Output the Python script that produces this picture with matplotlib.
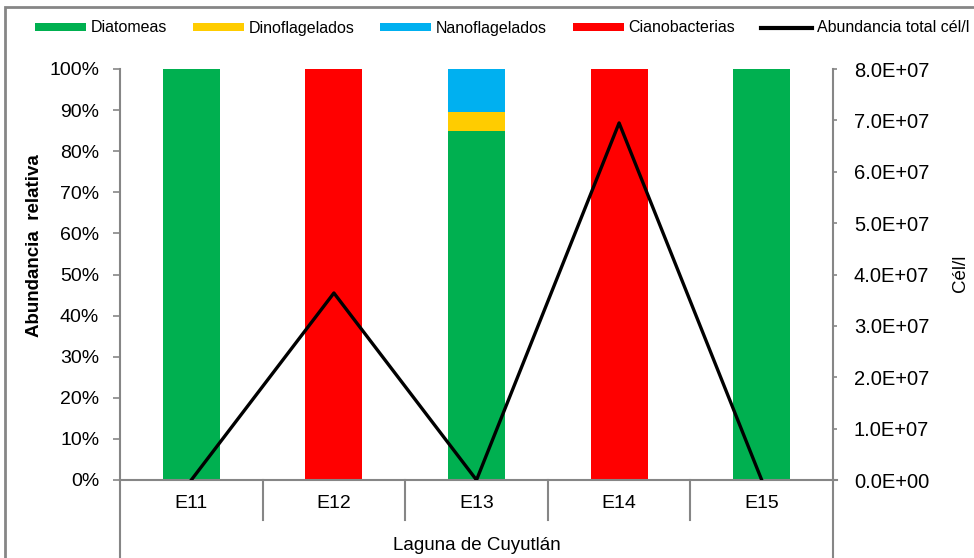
import matplotlib
matplotlib.use('Agg')
import matplotlib.pyplot as plt
import matplotlib.transforms as mtransforms
from matplotlib.patches import Rectangle
from matplotlib.ticker import FuncFormatter, FormatStrFormatter

# data
estaciones = ['E11', 'E12', 'E13', 'E14', 'E15']
diatomeas = [100, 0, 84.8, 0, 100]
dinoflagelados = [0, 0, 4.8, 0, 0]
nanoflagelados = [0, 0, 10.4, 0, 0]
cianobacterias = [0, 100, 0, 100, 0]
abundancia_total = [0, 3.64e7, 0, 6.95e7, 0]

grupos = ['Diatomeas', 'Dinoflagelados', 'Nanoflagelados', 'Cianobacterias']
colores = ['#00B050', '#FFCC00', '#00B0F0', '#FF0000']
gris = '#868686'

plt.rcParams['font.family'] = ['Liberation Sans', 'DejaVu Sans']

fig = plt.figure(figsize=(9.74, 5.58), dpi=100)
ax = fig.add_axes([120 / 974, 1 - 480 / 558, 713 / 974, 411 / 558])

x = list(range(len(estaciones)))
bottom = [0] * len(estaciones)
for nombre, vals, c in zip(grupos, [diatomeas, dinoflagelados, nanoflagelados, cianobacterias], colores):
    ax.bar(x, vals, width=0.4, bottom=bottom, color=c, label=nombre, zorder=2)
    bottom = [b + v for b, v in zip(bottom, vals)]

ax.set_xlim(-0.5, 4.5)
ax.set_ylim(0, 100)
ax.set_yticks(range(0, 101, 10))
ax.yaxis.set_major_formatter(FuncFormatter(lambda v, p: '%d%%' % v))
ax.set_xticks(x)
ax.set_xticklabels(estaciones)
ax.tick_params(axis='x', length=0, pad=11, labelsize=14)
ax.tick_params(axis='y', length=5, width=1.2, color=gris, pad=10, labelsize=14)
for s in ['top', 'right']:
    ax.spines[s].set_visible(False)
for s in ['left', 'bottom']:
    ax.spines[s].set_color(gris)
    ax.spines[s].set_linewidth(1.5)

ax2 = ax.twinx()
ax2.plot(x, abundancia_total, color='black', lw=2.4, label='Abundancia total cél/l', zorder=3)
ax2.set_ylim(0, 8e7)
ax2.set_yticks([i * 1e7 for i in range(9)])
ax2.yaxis.set_major_formatter(FormatStrFormatter('%.1E'))
ax2.tick_params(axis='y', length=3, width=1.2, color=gris, pad=12, labelsize=14.5)
for s in ['top', 'left', 'bottom']:
    ax2.spines[s].set_visible(False)
ax2.spines['right'].set_color(gris)
ax2.spines['right'].set_linewidth(1.5)

# separators between categories and extended axis lines
trans = mtransforms.blended_transform_factory(ax.transData, ax.transAxes)
for xs in [0.5, 1.5, 2.5, 3.5]:
    ax.plot([xs, xs], [0, -40 / 411], transform=trans, color=gris, lw=1.5, clip_on=False)
for xa in [0, 1]:
    ax.plot([xa, xa], [0, -0.2], transform=ax.transAxes, color=gris, lw=1.5, clip_on=False)
ax.plot([1, 1 + 4 / 713], [0, 0], transform=ax.transAxes, color=gris, lw=1.5, clip_on=False)

ax.text(0.5, -65 / 411, 'Laguna de Cuyutlán', transform=ax.transAxes, ha='center', va='center', fontsize=13.5)
fig.text(35 / 974, 1 - 246 / 558, 'Abundancia  relativa', rotation=90, ha='center', va='center',
         fontsize=13.5, fontweight='bold')
fig.text(960 / 974, 1 - 273 / 558, 'Cél/l', rotation=90, ha='center', va='center', fontsize=13.5)

# chart border
fig.patches.append(Rectangle((5 / 974, -0.1), 1.1, 1 - 7 / 558 + 0.1, transform=fig.transFigure,
                             fill=False, edgecolor=gris, lw=2))

h1, l1 = ax.get_legend_handles_labels()
h2, l2 = ax2.get_legend_handles_labels()
leg = fig.legend(h1 + h2, l1 + l2, loc='center', bbox_to_anchor=(502 / 974, 1 - 28 / 558), ncol=5,
                 frameon=False, handlelength=3.2, handleheight=0.4, handletextpad=0.3, columnspacing=1.6,
                 prop={'size': 11.5})
leg.get_lines()[0].set_linewidth(3)

fig.savefig('out.png', dpi=100)
